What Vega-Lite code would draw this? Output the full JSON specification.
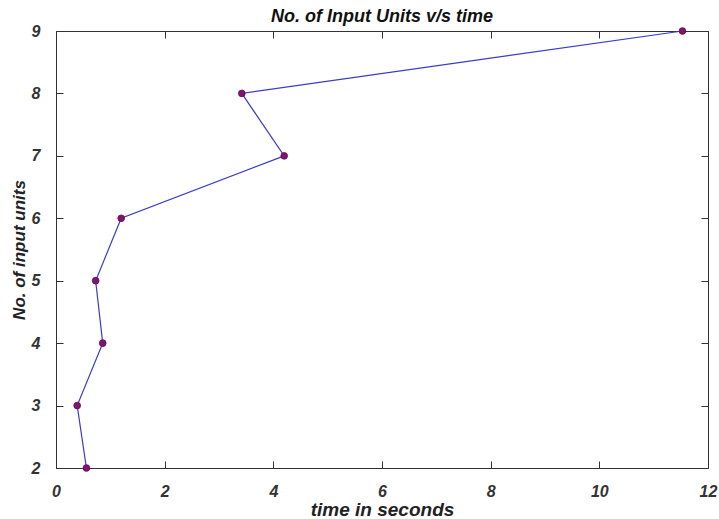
{
  "$schema": "https://vega.github.io/schema/vega-lite/v6.json",
  "width": 652,
  "height": 437,
  "autosize": {"type": "none"},
  "padding": {"left": 56, "top": 31, "right": 11, "bottom": 51},
  "background": "white",
  "title": {
    "text": "No. of Input Units v/s time",
    "font": "Liberation Sans",
    "fontSize": 18,
    "fontStyle": "italic",
    "fontWeight": "bold",
    "color": "#111",
    "anchor": "middle",
    "offset": 0,
    "dy": 3
  },
  "config": {
    "view": {"stroke": "#333", "strokeWidth": 1},
    "axis": {
      "grid": false,
      "domain": false,
      "ticks": true,
      "tickColor": "#333",
      "tickWidth": 1,
      "tickSize": 7,
      "offset": -7,
      "labelFont": "Liberation Sans",
      "labelFontSize": 16,
      "labelFontStyle": "italic",
      "labelFontWeight": "bold",
      "labelColor": "#333",
      "titleFont": "Liberation Sans",
      "titleFontStyle": "italic",
      "titleFontWeight": "bold",
      "titleColor": "#222"
    }
  },
  "data": {
    "values": [
      {"t": 0.56, "n": 2},
      {"t": 0.39, "n": 3},
      {"t": 0.86, "n": 4},
      {"t": 0.73, "n": 5},
      {"t": 1.2, "n": 6},
      {"t": 4.2, "n": 7},
      {"t": 3.42, "n": 8},
      {"t": 11.53, "n": 9}
    ]
  },
  "layer": [
    {
      "mark": {"type": "line", "color": "#3a3ad0", "strokeWidth": 1.2},
      "encoding": {
        "x": {
          "field": "t",
          "type": "quantitative",
          "scale": {"domain": [0, 12], "nice": false, "zero": false},
          "axis": {"title": "time in seconds", "titleFontSize": 19, "values": [0, 2, 4, 6, 8, 10, 12], "labelPadding": 15, "titlePadding": 1, "labelFlush": false}
        },
        "y": {
          "field": "n",
          "type": "quantitative",
          "scale": {"domain": [2, 9], "nice": false, "zero": false},
          "axis": {"title": "No. of input units", "titleFontSize": 17, "values": [2, 3, 4, 5, 6, 7, 8, 9], "labelPadding": 16, "titlePadding": 3, "labelFlush": false}
        },
        "order": {"field": "n", "type": "quantitative"}
      }
    },
    {
      "mark": {"type": "point", "filled": true, "shape": "circle", "size": 45, "color": "#861270", "stroke": "#5a0a50", "strokeWidth": 0.8, "opacity": 1},
      "encoding": {
        "x": {"field": "t", "type": "quantitative", "axis": null},
        "y": {"field": "n", "type": "quantitative", "axis": null}
      }
    },
    {
      "mark": {"type": "point", "opacity": 0},
      "encoding": {
        "x": {
          "field": "t",
          "type": "quantitative",
          "axis": {"orient": "top", "title": null, "labels": false, "values": [0, 2, 4, 6, 8, 10, 12]}
        },
        "y": {
          "field": "n",
          "type": "quantitative",
          "axis": {"orient": "right", "title": null, "labels": false, "values": [2, 3, 4, 5, 6, 7, 8, 9]}
        }
      }
    }
  ],
  "resolve": {"axis": {"x": "independent", "y": "independent"}}
}
